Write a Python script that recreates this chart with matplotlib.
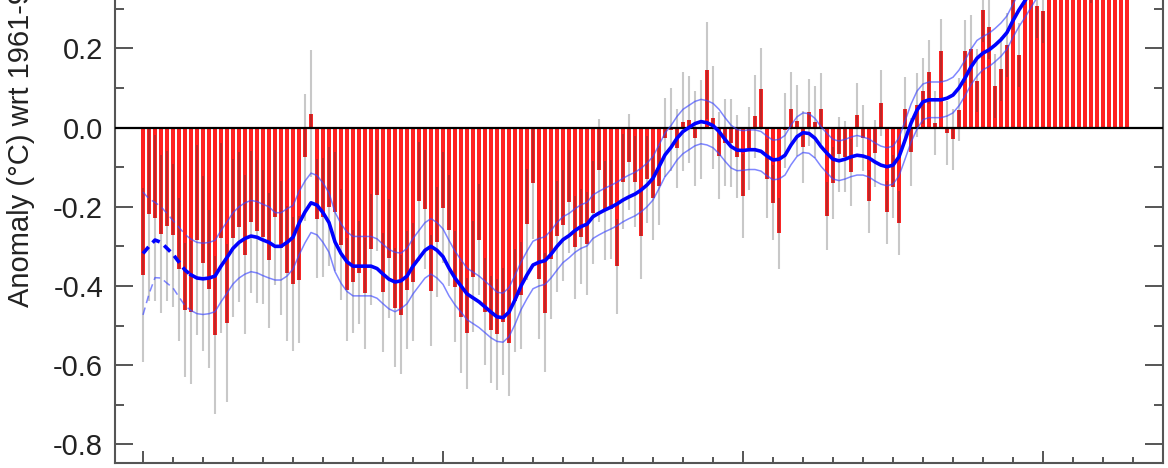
import numpy as np
import matplotlib
matplotlib.use("Agg")
import matplotlib.pyplot as plt
from matplotlib.ticker import MultipleLocator, FormatStrFormatter

plt.rcParams['font.family'] = ['Liberation Sans', 'DejaVu Sans']
plt.rcParams['axes.unicode_minus'] = False

# ---- annual global anomaly (degC wrt 1961-90), 1850-2014 ----
years = np.arange(1850, 2015)
anomaly = [
    -0.373, -0.218, -0.228, -0.269, -0.248, -0.272, -0.358, -0.461, -0.467, -0.284,
    -0.343, -0.407, -0.524, -0.278, -0.494, -0.279, -0.251, -0.321, -0.238, -0.262,
    -0.276, -0.335, -0.227, -0.304, -0.368, -0.395, -0.384, -0.075, 0.035, -0.230,
    -0.227, -0.200, -0.213, -0.296, -0.409, -0.389, -0.367, -0.418, -0.307, -0.171,
    -0.416, -0.330, -0.455, -0.473, -0.410, -0.390, -0.186, -0.206, -0.412, -0.289,
    -0.203, -0.259, -0.402, -0.479, -0.520, -0.377, -0.283, -0.465, -0.511, -0.522,
    -0.490, -0.544, -0.437, -0.424, -0.244, -0.141, -0.383, -0.468, -0.333, -0.275,
    -0.247, -0.187, -0.302, -0.276, -0.294, -0.215, -0.108, -0.210, -0.206, -0.350,
    -0.137, -0.087, -0.137, -0.273, -0.131, -0.178, -0.147, -0.026, -0.006, -0.052,
    0.014, 0.020, -0.027, -0.004, 0.144, 0.025, -0.071, -0.038, -0.039, -0.074,
    -0.173, -0.052, 0.028, 0.097, -0.129, -0.190, -0.267, -0.007, 0.046, 0.017,
    -0.049, 0.038, 0.014, 0.048, -0.223, -0.140, -0.068, -0.074, -0.113, 0.032,
    -0.027, -0.186, -0.065, 0.062, -0.214, -0.149, -0.241, 0.047, -0.062, 0.057,
    0.092, 0.140, 0.011, 0.194, -0.014, -0.030, 0.045, 0.192, 0.198, 0.118,
    0.296, 0.254, 0.105, 0.148, 0.208, 0.325, 0.183, 0.390, 0.539, 0.306,
    0.294, 0.441, 0.496, 0.505, 0.447, 0.545, 0.506, 0.491, 0.395, 0.506,
    0.560, 0.425, 0.470, 0.514, 0.579,
]
# 95% uncertainty half-width of each annual value
uncert = [
    0.22, 0.22, 0.21, 0.20, 0.19, 0.18, 0.18, 0.17, 0.18, 0.24,
    0.22, 0.20, 0.20, 0.24, 0.20, 0.20, 0.19, 0.20, 0.18, 0.18,
    0.17, 0.17, 0.17, 0.17, 0.17, 0.17, 0.16, 0.16, 0.16, 0.15,
    0.15, 0.15, 0.15, 0.14, 0.13, 0.13, 0.13, 0.14, 0.14, 0.14,
    0.15, 0.15, 0.15, 0.15, 0.15, 0.15, 0.15, 0.15, 0.14, 0.14,
    0.14, 0.14, 0.14, 0.14, 0.14, 0.14, 0.14, 0.135, 0.135, 0.14,
    0.135, 0.135, 0.13, 0.135, 0.14, 0.14, 0.15, 0.15, 0.15, 0.14,
    0.14, 0.13, 0.13, 0.12, 0.13, 0.13, 0.13, 0.125, 0.125, 0.12,
    0.12, 0.12, 0.115, 0.11, 0.11, 0.105, 0.10, 0.10, 0.105, 0.10,
    0.125, 0.11, 0.12, 0.125, 0.123, 0.13, 0.11, 0.11, 0.11, 0.105,
    0.105, 0.105, 0.104, 0.104, 0.10, 0.095, 0.09, 0.095, 0.095, 0.09,
    0.09, 0.085, 0.09, 0.09, 0.085, 0.09, 0.094, 0.09, 0.085, 0.08,
    0.084, 0.08, 0.085, 0.083, 0.08, 0.08, 0.08, 0.08, 0.085, 0.08,
    0.083, 0.08, 0.08, 0.08, 0.08, 0.078, 0.08, 0.08, 0.085, 0.08,
    0.08, 0.08, 0.08, 0.08, 0.08, 0.08, 0.08, 0.08, 0.08, 0.08,
    0.08, 0.08, 0.08, 0.08, 0.08, 0.08, 0.08, 0.08, 0.08, 0.08,
    0.08, 0.08, 0.08, 0.08, 0.08,
]

# ---- smoothed curve, 1850-1999 ----
smooth_years = np.arange(1850, 2000)
smooth = [
    -0.318, -0.300, -0.284, -0.290, -0.305, -0.320, -0.340, -0.360, -0.372, -0.380,
    -0.382, -0.380, -0.375, -0.350, -0.328, -0.305, -0.290, -0.280, -0.274, -0.277,
    -0.284, -0.290, -0.300, -0.300, -0.290, -0.277, -0.242, -0.213, -0.190, -0.196,
    -0.215, -0.240, -0.289, -0.318, -0.339, -0.350, -0.350, -0.350, -0.350, -0.356,
    -0.370, -0.383, -0.390, -0.387, -0.375, -0.350, -0.330, -0.310, -0.300, -0.310,
    -0.326, -0.355, -0.380, -0.400, -0.420, -0.430, -0.440, -0.453, -0.466, -0.478,
    -0.480, -0.466, -0.435, -0.400, -0.372, -0.347, -0.340, -0.336, -0.320, -0.300,
    -0.283, -0.273, -0.260, -0.250, -0.244, -0.225, -0.216, -0.208, -0.201, -0.193,
    -0.183, -0.175, -0.168, -0.158, -0.145, -0.128, -0.099, -0.069, -0.050, -0.027,
    -0.010, 0.000, 0.010, 0.015, 0.012, 0.005, -0.010, -0.030, -0.048, -0.057,
    -0.058, -0.056, -0.056, -0.060, -0.072, -0.082, -0.080, -0.070, -0.044, -0.023,
    -0.013, -0.015, -0.027, -0.048, -0.065, -0.080, -0.084, -0.080, -0.074, -0.070,
    -0.072, -0.077, -0.087, -0.095, -0.099, -0.095, -0.074, -0.032, 0.011, 0.044,
    0.065, 0.070, 0.070, 0.070, 0.074, 0.082, 0.100, 0.125, 0.153, 0.175,
    0.188, 0.196, 0.208, 0.222, 0.240, 0.270, 0.297, 0.320, 0.345, 0.370,
]
smooth_band = [
    0.155, 0.120, 0.095, 0.090, 0.088, 0.085, 0.088, 0.090, 0.090, 0.090,
    0.090, 0.090, 0.090, 0.090, 0.090, 0.090, 0.090, 0.090, 0.090, 0.090,
    0.090, 0.090, 0.085, 0.085, 0.085, 0.080, 0.080, 0.078, 0.075, 0.075,
    0.075, 0.075, 0.075, 0.075, 0.075, 0.075, 0.075, 0.075, 0.075, 0.075,
    0.075, 0.075, 0.075, 0.070, 0.070, 0.070, 0.070, 0.070, 0.070, 0.070,
    0.070, 0.070, 0.068, 0.066, 0.065, 0.065, 0.065, 0.065, 0.065, 0.062,
    0.062, 0.062, 0.062, 0.060, 0.060, 0.060, 0.060, 0.060, 0.060, 0.060,
    0.058, 0.056, 0.055, 0.055, 0.055, 0.055, 0.055, 0.055, 0.055, 0.055,
    0.055, 0.055, 0.055, 0.055, 0.055, 0.055, 0.055, 0.055, 0.055, 0.055,
    0.056, 0.056, 0.056, 0.056, 0.056, 0.056, 0.056, 0.055, 0.054, 0.052,
    0.050, 0.050, 0.050, 0.050, 0.050, 0.050, 0.050, 0.050, 0.050, 0.050,
    0.050, 0.050, 0.050, 0.050, 0.050, 0.050, 0.050, 0.050, 0.050, 0.050,
    0.048, 0.048, 0.048, 0.048, 0.048, 0.048, 0.048, 0.048, 0.048, 0.048,
    0.045, 0.045, 0.045, 0.045, 0.045, 0.045, 0.045, 0.045, 0.045, 0.045,
    0.042, 0.042, 0.042, 0.042, 0.042, 0.042, 0.042, 0.042, 0.042, 0.042,
]
dash_until = 1858   # early part of the smoothed curves is dashed

anom = np.array(anomaly)
err = np.array(uncert)
sm = np.array(smooth)
band = np.array(smooth_band)

fig = plt.figure(figsize=(11.68, 4.68), dpi=100)
ax = fig.add_axes([115 / 1168, 5 / 468, 1048 / 1168, 463 / 468])

# bars
ax.bar(years, anom, width=0.7, color='#ff2020', linewidth=0, zorder=1)

# error bars: grey outside the bar, dark red where they overlap it
lo = anom - err
hi = anom + err
ax.vlines(years, lo, hi, color='#c8c8c8', linewidth=1.5, zorder=2)
bmin = np.minimum(anom, 0)
bmax = np.maximum(anom, 0)
olo = np.maximum(lo, bmin)
ohi = np.minimum(hi, bmax)
m = ohi > olo
ax.vlines(years[m], olo[m], ohi[m], color='#bf2626', linewidth=1.5, zorder=2)

ax.axhline(0, color='black', linewidth=1.6, zorder=3)

# smoothed curve with its uncertainty band
d = smooth_years <= dash_until
s = smooth_years >= dash_until
dash = (0, (2.4, 1.6))
band_col = '#3a46ff'
for sgn in (1, -1):
    ax.plot(smooth_years[d], sm[d] + sgn * band[d], color=band_col, lw=1.1,
            alpha=0.65, ls=(0, (5, 3)), zorder=4)
    ax.plot(smooth_years[s], sm[s] + sgn * band[s], color=band_col, lw=1.1,
            alpha=0.65, zorder=4)
ax.plot(smooth_years[d], sm[d], color='#0000ff', lw=2.6, ls=dash, zorder=5)
ax.plot(smooth_years[s], sm[s], color='#0000ff', lw=2.6, zorder=5)

# axes
ax.set_xlim(1845.33, 2020)
ax.set_ylim(-0.847, 0.322)
ax.yaxis.set_major_locator(MultipleLocator(0.2))
ax.yaxis.set_minor_locator(MultipleLocator(0.1))
ax.yaxis.set_major_formatter(FormatStrFormatter('%.1f'))
ax.xaxis.set_major_locator(MultipleLocator(50))
ax.xaxis.set_minor_locator(MultipleLocator(5))
ax.set_xticklabels([])

for sp in ('left', 'right', 'bottom'):
    ax.spines[sp].set_color('#555555')
    ax.spines[sp].set_linewidth(1.5)
ax.spines['top'].set_visible(False)

ax.tick_params(axis='y', which='both', direction='in', left=True, right=True,
               color='#555555', width=1.4, labelsize=21, pad=8.5, labelcolor='#222222')
ax.tick_params(axis='y', which='major', length=13)
ax.tick_params(axis='y', which='minor', length=6.5)
ax.tick_params(axis='x', which='both', direction='in', bottom=True, top=False,
               color='#555555', width=1.4)
ax.tick_params(axis='x', which='major', length=9)
ax.tick_params(axis='x', which='minor', length=4)

# label runs past the top edge, as in the cropped original
fig.text(21 / 1168, (468 - 307) / 468, 'Anomaly (°C) wrt 1961-90', rotation=90,
         ha='center', va='bottom', fontsize=21, color='#222222')

fig.savefig('out.png', dpi=100)
